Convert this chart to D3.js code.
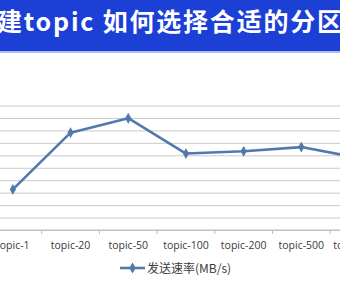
<!DOCTYPE html>
<html>
<head>
<meta charset="utf-8">
<script src="https://cdn.jsdelivr.net/npm/d3@7"></script>
<style>
  body { margin: 0; background: #fff; }
  svg { display: block; }
</style>
</head>
<body>
<svg width="340" height="286"></svg>
<script>
const svg = d3.select('svg');

const width = +svg.attr('width');
const height = +svg.attr('height');

// categories (the slide is cropped, last one only partly visible)
const categories = ['topic-1', 'topic-20', 'topic-50', 'topic-100', 'topic-200', 'topic-500', 'topic-1000'];
// 发送速率 (MB/s)
const sendRate = [32.6, 78.2, 89.8, 61.4, 63.2, 66.6, 57.9];
const yTicks = [0, 10, 20, 30, 40, 50, 60, 70, 80, 90, 100];

const titleText = '建topic 如何选择合适的分区';
const legendText = '发送速率(MB/s)';

// blue title band
svg.append('rect')
  .attr('x', 0).attr('y', 0)
  .attr('width', width).attr('height', 51)
  .attr('fill', '#1c3fd6');

svg.append('rect')
  .attr('x', 0).attr('y', 51)
  .attr('width', width).attr('height', 2)
  .attr('fill', '#aebcf0');

svg.append('text')
  .attr('x', -3)
  .attr('y', 31)
  .attr('fill', '#fff')
  .attr('font-family', '"Noto Sans CJK SC", "Noto Sans", sans-serif')
  .attr('font-weight', 'bold')
  .attr('font-size', 25)
  .attr('textLength', 345)
  .attr('lengthAdjust', 'spacing')
  .text(titleText);

// plot area (y axis labels fall off the left side, like the cropped slide)
const margin = { top: 105.5, left: -16 };
const innerWidth = 7 * 57.7;
const innerHeight = 230 - margin.top;

const xScale = d3.scaleBand()
  .domain(categories)
  .range([0, innerWidth]);

const yScale = d3.scaleLinear()
  .domain([0, 100])
  .range([innerHeight, 0]);

const g = svg.append('g')
  .attr('transform', `translate(${margin.left},${margin.top})`);

const yAxis = d3.axisLeft(yScale)
  .tickValues(yTicks)
  .tickSize(-innerWidth)
  .tickFormat('');

g.append('g')
  .call(yAxis)
  .call(s => s.select('.domain').remove())
  .call(s => s.selectAll('line').attr('stroke', '#c9c9c9').attr('stroke-width', 1));

// x axis: Excel style, ticks on category boundaries
const xAxisG = g.append('g')
  .attr('transform', `translate(0,${innerHeight})`);

xAxisG.append('line')
  .attr('x1', 0).attr('x2', innerWidth)
  .attr('stroke', '#bdbdbd');

xAxisG.selectAll('.bound').data(categories)
  .enter().append('line')
    .attr('class', 'bound')
    .attr('x1', d => xScale(d)).attr('x2', d => xScale(d))
    .attr('y1', 0).attr('y2', 4)
    .attr('stroke', '#bdbdbd');

xAxisG.selectAll('.lbl').data(categories)
  .enter().append('text')
    .attr('class', 'lbl')
    .attr('x', d => xScale(d) + xScale.bandwidth() / 2)
    .attr('y', 19)
    .attr('text-anchor', 'middle')
    .attr('fill', '#3a3a3a')
    .attr('font-family', '"Open Sans", sans-serif')
    .attr('font-size', 10.5)
    .text(d => d);

const xPos = (d, i) => xScale(categories[i]) + xScale.bandwidth() / 2;

const lineColor = '#5279ad';

const line = d3.line()
  .x(xPos)
  .y(d => yScale(d));

g.append('path')
  .datum(sendRate)
  .attr('fill', 'none')
  .attr('stroke', lineColor)
  .attr('stroke-width', 2.6)
  .attr('stroke-linejoin', 'round')
  .attr('d', line);

const diamond = d3.symbol().type(d3.symbolDiamond).size(34);

g.selectAll('.pt').data(sendRate)
  .enter().append('path')
    .attr('class', 'pt')
    .attr('transform', (d, i) => `translate(${xPos(d, i)},${yScale(d)})`)
    .attr('d', diamond)
    .attr('fill', lineColor);

// legend
const legend = svg.append('g')
  .attr('transform', 'translate(120,268)');

legend.append('line')
  .attr('x1', 0).attr('x2', 25)
  .attr('stroke', lineColor)
  .attr('stroke-width', 2.6);

legend.append('path')
  .attr('transform', 'translate(12.5,0)')
  .attr('d', diamond)
  .attr('fill', lineColor);

legend.append('text')
  .attr('x', 27)
  .attr('y', 4.5)
  .attr('fill', '#3a3a3a')
  .attr('font-family', '"Noto Sans CJK SC", sans-serif')
  .attr('font-size', 12)
  .text(legendText);
</script>
</body>
</html>
